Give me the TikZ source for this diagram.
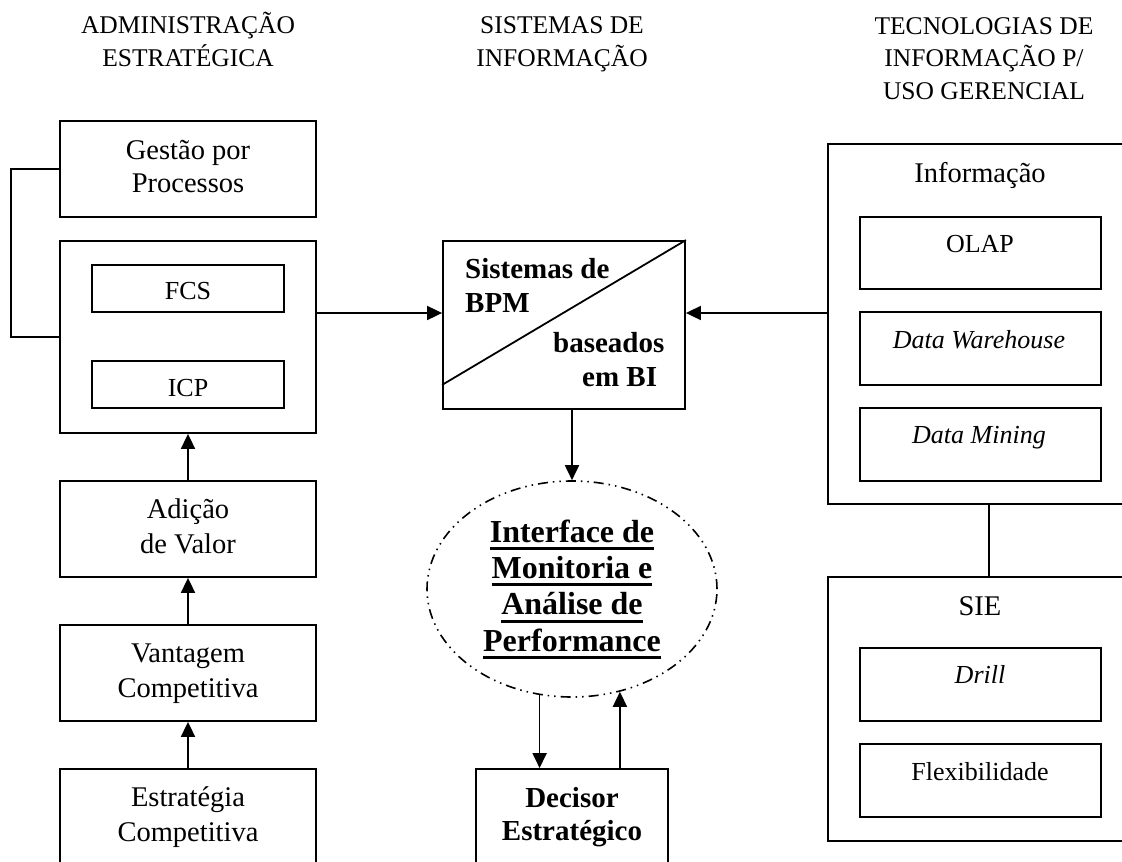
\documentclass[tikz,border=0pt]{standalone}
\usepackage{fontspec}
\setmainfont{Liberation Serif}
\usetikzlibrary{arrows.meta,shapes.geometric,calc}

% thick underline used for the bold labels in the ellipse
\newsavebox\ulbox
\newcommand\undl[1]{\sbox\ulbox{#1}\rlap{\rule[-8pt]{\wd\ulbox}{3.2pt}}\usebox\ulbox}

\begin{document}
\begin{tikzpicture}[x=1pt,y=-1pt,
  box/.style={draw, line width=1.8pt, inner sep=0pt},
  lbl/.style={anchor=base, align=center, inner sep=0pt, font=\fontsize{28.5}{34}\selectfont},
  small/.style={anchor=base, align=center, inner sep=0pt, font=\fontsize{26}{33}\selectfont},
  head/.style={anchor=base, align=center, inner sep=0pt, font=\fontsize{25.5}{32.5}\selectfont},
  bold/.style={anchor=base, inner sep=0pt, font=\fontsize{29}{34}\selectfont\bfseries},
  arr/.style={line width=1.8pt, -{Triangle[length=15pt,width=14pt]}},
  link/.style={line width=1.8pt}]

\useasboundingbox (0,0) rectangle (1122,862);
\clip (0,0) rectangle (1122,862);

% column headings (anchored at the baseline of their last line)
\node[head] (h1) at (188,66) {ADMINISTRAÇÃO\\ESTRATÉGICA};
\node[head] (h2) at (562,66) {SISTEMAS DE\\INFORMAÇÃO};
\node[head] (h3) at (984,99) {TECNOLOGIAS DE\\INFORMAÇÃO P/\\USO GERENCIAL};

% left column: strategic management
\node[box, minimum width=256, minimum height=96]  (gestao)   at (188,169) {};
\node[box, minimum width=256, minimum height=192] (core)     at (188,337) {};
\node[box, minimum width=192, minimum height=47]  (fcs)      at (188,288.5) {};
\node[box, minimum width=192, minimum height=47]  (icp)      at (188,384.5) {};
\node[box, minimum width=256, minimum height=96]  (adicao)   at (188,529) {};
\node[box, minimum width=256, minimum height=96]  (vantagem) at (188,673) {};
\node[box, minimum width=256, minimum height=110] (estrat)   at (188,824) {};

\node[lbl, font=\fontsize{28.5}{33}\selectfont] (tgestao) at (188,192) {Gestão por\\Processos};
\node[small] (tfcs)      at (188,299) {FCS};
\node[small] (ticp)      at (188,396) {ICP};
\node[lbl, font=\fontsize{28.5}{35}\selectfont] (tadicao)   at (188,553) {Adição\\de Valor};
\node[lbl, font=\fontsize{28.5}{35}\selectfont] (tvantagem) at (188,697) {Vantagem\\Competitiva};
\node[lbl, font=\fontsize{28.5}{35}\selectfont] (testrat)   at (188,841) {Estratégia\\Competitiva};

% middle column: information systems
\node[box, minimum width=242, minimum height=168] (bpm) at (564,325) {};
\node[draw, ellipse, line width=1.6pt, minimum width=290, minimum height=216,
      dash pattern=on 10pt off 5pt on 1.5pt off 5pt on 1.5pt off 5pt] (iface) at (572,589) {};
\node[box, minimum width=192, minimum height=110] (dec) at (572,824) {};

\draw[link] ($(bpm.south west)+(0,-25)$) -- (bpm.north east);
\node[bold, anchor=base west, align=left] (tbpm1) at (465,312) {Sistemas de\\BPM};
\node[bold, anchor=base west] (tbpm2) at (553,352) {baseados};
\node[bold, anchor=base west] (tbpm3) at (582,386) {em BI};

\node[anchor=base, align=center, inner sep=0pt, font=\fontsize{32}{36.3}\selectfont\bfseries]
  (tiface) at (572,651) {\undl{Interface de}\\\undl{Monitoria e}\\\undl{Análise de}\\\undl{Performance}};
\node[bold, align=center, font=\fontsize{29}{33}\selectfont\bfseries] (tdec) at (572,840) {Decisor\\Estratégico};

% right column: information technologies
\node[box, minimum width=312, minimum height=360] (info)  at (984,324) {};
\node[box, minimum width=241, minimum height=72]  (olap)  at (980.5,253) {};
\node[box, minimum width=241, minimum height=73]  (dw)    at (980.5,348.5) {};
\node[box, minimum width=241, minimum height=73]  (dm)    at (980.5,444.5) {};
\node[box, minimum width=312, minimum height=264] (sie)   at (984,709) {};
\node[box, minimum width=241, minimum height=73]  (drill) at (980.5,684.5) {};
\node[box, minimum width=241, minimum height=73]  (flex)  at (980.5,780.5) {};

\node[lbl]   (tinfo)  at (980,182) {Informação};
\node[small] (tolap)  at (980,252) {OLAP};
\node[small] (tdw)    at (979,348) {\itshape Data Warehouse};
\node[small] (tdm)    at (979,443) {\itshape Data Mining};
\node[lbl]   (tsie)   at (980,615) {SIE};
\node[small] (tdrill) at (980,683) {\itshape Drill};
\node[small] (tflex)  at (980,780) {Flexibilidade};

% connectors
\coordinate (ya) at (0,313);
\coordinate (xc) at (989,0);
\draw[link] (gestao.west) -- ++(-48,0) |- (core.west);
\draw[arr] (adicao.north) -- (core.south);
\draw[arr] (vantagem.north) -- (adicao.south);
\draw[arr] (estrat.north) -- (vantagem.south);
\draw[arr] (core.east |- ya) -- (bpm.west |- ya);
\draw[arr] (info.west |- ya) -- (bpm.east |- ya);
\draw[arr] (bpm.south -| iface.north) -- (iface.north);
\draw[arr] (iface.253) -- (iface.253 |- dec.north);
\draw[arr] (iface.295 |- dec.north) -- (iface.295);
\draw[link] (info.south -| xc) -- (sie.north -| xc);
\end{tikzpicture}
\end{document}
